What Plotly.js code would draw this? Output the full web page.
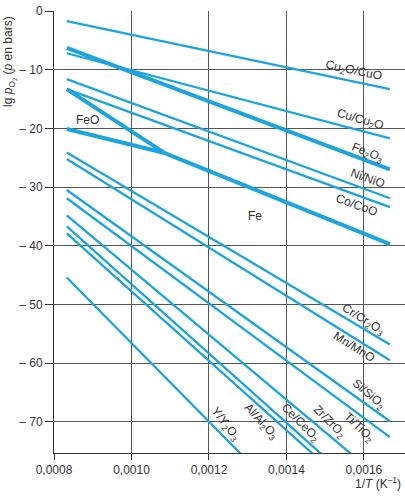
<!DOCTYPE html>
<html><head><meta charset="utf-8">
<script src="https://cdn.plot.ly/plotly-3.0.1.min.js"></script>
<style>html,body{margin:0;padding:0;background:#fff}#chart{width:405px;height:496px}</style>
</head><body><div id="chart"></div>
<script>
// 1/T (K^-1) at the two ends of each equilibrium line
const invT = [0.000833, 0.001667];
const couples = ['Cu2O/CuO','Cu/Cu2O','Fe3O4/Fe2O3','Ni/NiO','Co/CoO','Cr/Cr2O3','Mn/MnO','Si/SiO2','Ti/TiO2','Zr/ZrO2','Ce/CeO2','Al/Al2O3','Y/Y2O3'];
const lgHighT = [-1.74, -7.2, -6.3, -11.6, -13.3, -24.1, -25.2, -30.5, -31.9, -34.8, -36.7, -37.9, -45.4];
const lgLowT  = [-13.3, -21.7, -27.0, -31.9, -33.4, -56.8, -59.5, -69.9, -72.6, -81.0, -85.9, -87.2, -101.2];
const thick   = [false, false, true, false, false, false, false, false, false, false, false, false, false];
// iron system (Fe/FeO, FeO/Fe3O4 meet at the triple point, then Fe/Fe3O4)
const feTripleInvT = 0.001086, feTripleLg = -24.2;
const feFeoLg = -20.1, feoFe3o4Lg = -13.3, feFe3o4EndLg = -39.7;

const labels = ['Cu<sub>2</sub>O/CuO','Cu/Cu<sub>2</sub>O','Fe<sub>2</sub>O<sub>3</sub>','Ni/NiO','Co/CoO','Cr/Cr<sub>2</sub>O<sub>3</sub>','Mn/MnO','Si/SiO<sub>2</sub>','Ti/TiO<sub>2</sub>','Zr/ZrO<sub>2</sub>','Ce/CeO<sub>2</sub>','Al/Al<sub>2</sub>O<sub>3</sub>','Y/Y<sub>2</sub>O<sub>3</sub>'];
const labelX = [0.001572, 0.00159, 0.001608, 0.001608, 0.001582, 0.001598, 0.001575, 0.001613, 0.001587, 0.00151, 0.001435, 0.001334, 0.001241];
const labelY = [-10.26, -18.6, -24.2, -28.5, -33.1, -52.7, -57.3, -65.4, -71.1, -70.0, -70.2, -70.0, -70.4];
const labelAngle = [12, 16, 22, 20, 20, 32, 32, 40, 44, 45, 45, 47, 52];

const yTicks = [0, -10, -20, -30, -40, -50, -60, -70];
const yTickText = ['0', '– 10', '– 20', '– 30', '– 40', '– 50', '– 60', '– 70'];
const xTicks = [0.0008, 0.0010, 0.0012, 0.0014, 0.0016];
const xTickText = ['0,0008', '0,0010', '0,0012', '0,0014', '0,0016'];

const blue = '#1ba4de';
const traces = couples.map((c, i) => ({
  type: 'scatter', mode: 'lines', name: c,
  x: invT, y: [lgHighT[i], lgLowT[i]],
  line: {color: blue, width: thick[i] ? 4 : 2.3}, hoverinfo: 'skip'
}));
traces.push({type:'scatter', mode:'lines', name:'Fe/FeO', x:[invT[0], feTripleInvT], y:[feFeoLg, feTripleLg], line:{color:blue, width:4}});
traces.push({type:'scatter', mode:'lines', name:'FeO/Fe3O4', x:[invT[0], feTripleInvT], y:[feoFe3o4Lg, feTripleLg], line:{color:blue, width:4}});
traces.push({type:'scatter', mode:'lines', name:'Fe/Fe3O4', x:[feTripleInvT, invT[1]], y:[feTripleLg, feFe3o4EndLg], line:{color:blue, width:4}});

const font = {family: 'Liberation Sans, Arial, sans-serif', size: 12, color: '#333'};
const ann = labels.map((t, i) => ({
  x: labelX[i], y: labelY[i], xref: 'x', yref: 'y', text: t, showarrow: false,
  textangle: labelAngle[i], font: font, xanchor: 'center', yanchor: 'middle'
}));
ann.push({x: 0.001319, y: -35.0, xref:'x', yref:'y', text:'Fe', showarrow:false, font:font});
ann.push({x: 0.000887, y: -18.6, xref:'x', yref:'y', text:'FeO', showarrow:false, font:font});
ann.push({x: 0.994, y: -0.068, xref:'paper', yref:'paper', xanchor:'right', yanchor:'middle',
  text:'1/<i>T</i> (K<sup>–1</sup>)', showarrow:false, font:font});
ann.push({x: -0.128, y: 0.885, xref:'paper', yref:'paper', xanchor:'center', yanchor:'middle', textangle:-90,
  text:'lg <i>p</i><sub>O<sub>2</sub></sub> (<i>p</i> en bars)', showarrow:false, font:font});

const layout = {
  width: 405, height: 496,
  margin: {l: 54, r: 0, t: 11, b: 43},
  paper_bgcolor: '#fff', plot_bgcolor: '#fff',
  showlegend: false,
  font: font,
  xaxis: {range: [0.0008, 0.001706], tickvals: xTicks, ticktext: xTickText,
    showgrid: true, gridcolor: '#555', gridwidth: 1, zeroline: false,
    showline: true, linecolor: '#333', linewidth: 1, ticks: 'outside', ticklen: 6, tickcolor: '#333',
    tickfont: font},
  yaxis: {range: [-75.3, 0], tickvals: yTicks, ticktext: yTickText,
    showgrid: true, gridcolor: '#555', gridwidth: 1, zeroline: false,
    showline: true, linecolor: '#333', linewidth: 1, ticks: 'outside', ticklen: 8, tickcolor: '#333',
    tickfont: font},
  annotations: ann
};
Plotly.newPlot('chart', traces, layout, {staticPlot: true});
</script></body></html>
